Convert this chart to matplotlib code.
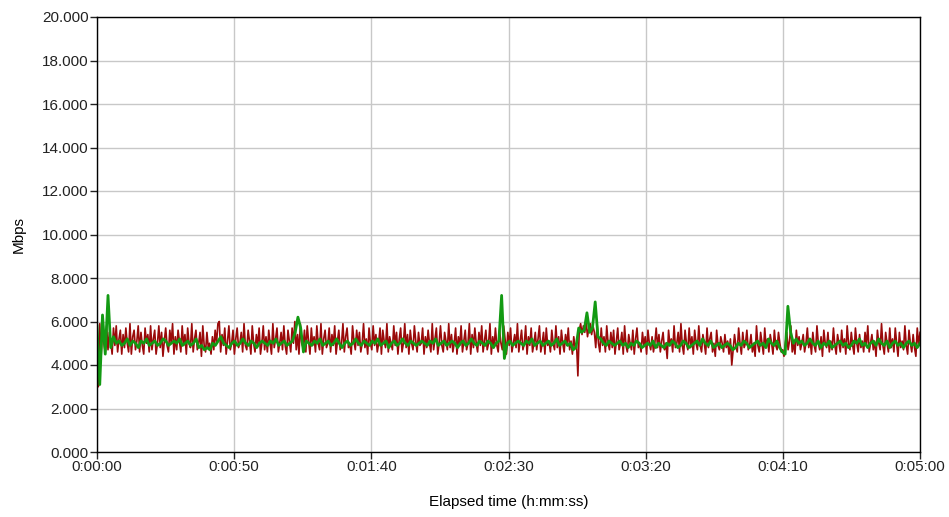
import numpy as np
import matplotlib.pyplot as plt
from matplotlib.ticker import MultipleLocator, FuncFormatter

plt.rcParams['font.family'] = ['Liberation Sans', 'DejaVu Sans']

FIGSIZE = (9.49, 5.17)
DPI = 100
FONTSIZE = 11
RED = '#9a0a0a'
GREEN = '#139a13'
GRID = '#c8c8c8'
DURATION = 300  # seconds

# Mbps, two samples per second
red = [
    5.7, 3.0, 5.9, 4.4, 5.6, 5.0, 4.6, 5.8, 4.7, 5.5, 5.1, 4.5, 5.7, 4.9, 5.8, 4.6, 5.2, 5.6, 4.5, 5.4,
    4.8, 5.7, 5.0, 4.6, 5.9, 4.5, 5.3, 5.6, 4.7, 5.1, 5.8, 4.6, 5.5, 4.9, 4.5, 5.7, 5.0, 5.4, 4.6, 5.8,
    4.7, 5.2, 5.6, 4.5, 5.0, 5.8, 4.8, 5.5, 4.4, 5.1, 5.7, 4.9, 4.6, 5.6, 5.0, 5.9, 4.5, 5.3, 4.7, 5.6,
    5.1, 4.6, 5.8, 4.9, 5.4, 4.5, 5.7, 5.0, 4.8, 5.9, 4.6, 5.2, 5.6, 4.7, 5.0, 5.5, 4.4, 5.8, 4.9, 4.6,
    5.5, 4.8, 5.0, 4.5, 5.3, 4.7, 5.6, 5.0, 5.9, 6.0, 4.6, 5.4, 4.9, 5.7, 4.5, 5.1, 5.8, 4.7, 5.0, 5.6,
    4.5, 5.2, 5.7, 4.8, 5.0, 5.5, 4.6, 5.9, 4.9, 4.7, 5.6, 5.1, 4.5, 5.8, 5.0, 4.6, 5.4, 4.9, 5.7, 4.5,
    5.0, 5.8, 4.7, 5.3, 4.6, 5.6, 5.0, 4.5, 5.9, 4.8, 5.2, 5.7, 4.6, 5.0, 5.5, 4.7, 5.8, 4.9, 4.5, 5.6,
    5.1, 4.6, 5.7, 5.0, 6.0, 4.7, 5.4, 4.5, 5.9, 5.0, 4.8, 5.6, 4.6, 5.8, 5.1, 4.5, 5.7, 4.9, 5.3, 4.6,
    5.8, 5.0, 4.7, 5.9, 4.5, 5.2, 5.6, 4.8, 5.0, 5.7, 4.6, 5.4, 4.9, 5.8, 4.5, 5.1, 5.6, 4.7, 5.0, 5.9,
    4.6, 5.3, 5.7, 4.8, 5.0, 4.5, 5.8, 5.1, 4.7, 5.6, 4.9, 5.5, 4.6, 5.0, 5.9, 4.8, 5.2, 4.5, 5.7, 5.0,
    4.7, 5.8, 4.9, 5.4, 4.6, 5.0, 5.7, 4.5, 5.6, 5.1, 4.8, 5.9, 4.6, 5.3, 5.0, 4.7, 5.8, 4.9, 5.5, 4.5,
    5.2, 5.7, 4.6, 5.0, 5.9, 4.8, 5.4, 4.5, 5.6, 5.0, 4.7, 5.8, 5.1, 4.6, 5.5, 4.9, 5.0, 5.7, 4.5, 5.3,
    4.8, 5.6, 5.0, 4.6, 5.9, 4.7, 5.2, 5.7, 4.5, 5.0, 5.8, 4.9, 4.6, 5.5, 5.1, 4.7, 5.9, 4.8, 5.4, 4.6,
    5.0, 5.7, 4.5, 5.3, 4.9, 5.8, 4.6, 5.1, 5.6, 4.7, 5.0, 5.9, 4.5, 5.4, 4.8, 5.7, 5.0, 4.6, 5.5, 4.9,
    5.8, 4.6, 5.1, 5.6, 4.7, 5.0, 5.9, 4.5, 5.3, 4.8, 5.7, 4.9, 4.6, 5.6, 5.0, 4.7, 5.8, 5.2, 4.5, 5.5,
    4.9, 5.7, 4.6, 5.0, 5.4, 4.8, 5.9, 4.6, 5.1, 5.6, 4.7, 5.0, 5.8, 4.5, 5.3, 4.9, 5.7, 4.6, 5.0, 5.5,
    4.7, 5.2, 5.8, 4.6, 5.0, 5.5, 4.5, 5.7, 4.9, 5.1, 4.6, 5.6, 5.0, 4.7, 5.8, 4.8, 5.3, 4.5, 5.6, 5.0,
    4.6, 5.4, 4.9, 5.7, 4.7, 5.1, 4.5, 5.3, 4.8, 5.0, 3.5, 5.6, 5.9, 5.4, 5.8, 5.5, 6.0, 5.3, 5.7, 5.9,
    5.4, 5.8, 5.5, 4.8, 5.9, 5.0, 4.6, 5.7, 4.9, 5.3, 4.6, 5.8, 5.0, 4.7, 5.5, 4.8, 5.6, 4.5, 5.1, 5.7,
    4.7, 5.0, 5.5, 4.5, 5.8, 4.9, 4.6, 5.4, 5.0, 4.7, 5.6, 4.5, 5.2, 5.7, 4.8, 5.0, 4.6, 5.5, 4.9, 5.3,
    4.5, 5.6, 5.0, 4.7, 5.3, 4.6, 5.0, 5.7, 4.8, 5.4, 4.6, 5.1, 5.5, 4.7, 5.0, 4.3, 5.6, 4.9, 5.2, 4.6,
    5.8, 4.8, 5.0, 5.5, 4.6, 5.9, 4.9, 4.5, 5.6, 5.0, 4.7, 5.7, 4.8, 5.3, 4.5, 5.6, 5.0, 4.7, 5.8, 4.9,
    4.6, 5.4, 5.0, 4.5, 5.7, 4.8, 5.2, 5.5, 4.6, 5.0, 4.4, 5.6, 4.9, 4.7, 5.3, 5.0, 4.6, 5.4, 4.8, 5.1,
    4.5, 5.2, 4.0, 4.7, 5.4, 4.9, 4.6, 5.7, 5.0, 4.5, 5.5, 4.8, 5.0, 5.6, 4.7, 4.9, 5.4, 4.6, 5.0, 4.4,
    5.8, 4.9, 4.6, 5.5, 5.0, 4.5, 5.7, 4.8, 5.2, 4.6, 5.4, 5.0, 4.5, 5.6, 4.9, 4.7, 5.5, 5.0, 4.6, 4.7,
    4.4, 5.0, 5.5, 4.7, 5.1, 5.8, 4.6, 5.0, 4.5, 5.6, 4.9, 5.3, 4.7, 5.0, 5.4, 4.6, 5.0, 5.7, 4.8, 5.2,
    4.5, 5.5, 4.9, 4.6, 5.8, 5.0, 4.7, 5.3, 4.4, 5.6, 5.0, 4.8, 5.5, 4.6, 5.1, 4.7, 5.7, 4.9, 4.5, 5.4,
    5.0, 4.6, 5.6, 4.8, 5.2, 4.5, 5.8, 5.0, 4.7, 5.5, 4.9, 4.5, 5.7, 5.0, 4.6, 5.4, 4.8, 5.1, 4.6, 5.5,
    4.9, 5.8, 4.6, 5.0, 5.4, 4.7, 5.1, 4.4, 5.6, 5.0, 4.7, 5.9, 4.9, 4.5, 5.5, 5.0, 4.6, 5.7, 4.8, 5.2,
    4.6, 5.7, 5.0, 4.4, 5.5, 4.8, 5.1, 4.7, 5.8, 4.9, 4.5, 5.6, 5.0, 4.6, 5.4, 4.8, 4.4, 5.7, 4.9, 5.5,
]

# Mbps, one sample per second
green = [
    5.8, 3.1, 6.3, 4.5, 7.2, 4.8, 5.3, 5.0, 5.1, 4.9,
    5.0, 5.2, 4.9, 5.1, 5.0, 4.8, 5.1, 5.0, 5.2, 4.9,
    5.0, 5.1, 4.9, 5.0, 5.2, 5.1, 4.9, 5.0, 5.1, 5.0,
    5.2, 4.9, 5.0, 5.1, 4.9, 5.0, 5.2, 4.8, 4.9, 4.7,
    4.8, 4.7, 5.0, 4.9, 5.1, 5.3, 5.0, 4.9, 4.8, 5.0,
    5.1, 4.9, 5.0, 5.2, 5.0, 4.9, 5.1, 5.0, 4.8, 5.0,
    5.1, 5.0, 4.9, 5.1, 5.0, 5.2, 4.9, 5.0, 5.1, 4.9,
    5.0, 5.1, 5.5, 6.2, 5.7, 4.6, 5.1, 5.0, 4.9, 5.1,
    5.0, 5.2, 4.9, 5.0, 5.1, 4.9, 5.0, 5.2, 5.0, 4.8,
    5.0, 5.1, 4.9, 5.0, 5.2, 5.0, 4.9, 5.1, 5.0, 4.9,
    5.1, 5.0, 5.2, 4.9, 5.0, 5.1, 4.8, 5.0, 5.1, 4.9,
    5.0, 5.2, 5.0, 4.9, 5.1, 5.0, 4.9, 5.0, 5.1, 5.0,
    4.9, 5.1, 5.0, 5.2, 4.9, 5.0, 5.1, 4.9, 5.0, 5.1,
    5.0, 4.8, 5.0, 5.1, 4.9, 5.0, 5.2, 5.0, 4.9, 5.1,
    5.0, 4.9, 5.1, 5.0, 4.8, 5.0, 5.1, 7.2, 4.3, 5.0,
    5.1, 4.9, 5.0, 5.1, 5.0, 4.9, 5.1, 5.0, 5.2, 4.9,
    5.0, 5.1, 4.9, 5.0, 5.1, 4.9, 5.0, 5.2, 4.9, 5.0,
    5.1, 4.9, 5.0, 4.7, 4.8, 5.7, 5.5, 5.6, 6.4, 5.5,
    5.7, 6.9, 5.3, 5.2, 5.0, 4.9, 5.1, 5.0, 4.9, 5.0,
    5.1, 4.9, 5.0, 4.8, 5.0, 4.9, 5.1, 5.0, 4.8, 4.9,
    5.0, 4.9, 5.1, 4.8, 5.0, 4.9, 4.8, 5.0, 4.9, 5.1,
    5.0, 4.8, 4.9, 5.1, 5.0, 4.8, 4.9, 5.0, 5.1, 4.9,
    5.2, 5.0, 4.9, 5.1, 4.8, 4.9, 5.0, 4.8, 4.9, 5.0,
    4.9, 4.7, 4.8, 5.0, 4.9, 5.1, 5.0, 4.8, 4.9, 5.0,
    5.1, 4.9, 5.0, 4.8, 5.2, 5.0, 4.9, 5.1, 4.8, 4.6,
    4.5, 6.7, 5.5, 5.0, 5.2, 5.0, 5.1, 4.9, 5.0, 5.2,
    5.0, 4.9, 5.1, 4.8, 5.0, 4.9, 5.1, 4.8, 4.9, 5.0,
    5.1, 4.9, 5.0, 4.8, 4.9, 5.1, 5.0, 5.2, 4.9, 5.0,
    4.8, 5.0, 5.1, 4.9, 5.2, 5.0, 4.9, 5.1, 4.8, 5.0,
    5.1, 4.9, 5.0, 4.8, 5.0, 5.1, 4.9, 5.0, 4.8, 5.0,
]


def hms(x, pos):
    s = int(round(x))
    return f"{s // 3600}:{(s % 3600) // 60:02d}:{s % 60:02d}"


def main():
    t_red = np.linspace(0, DURATION, len(red))
    t_green = np.linspace(0, DURATION, len(green))
    fig = plt.figure(figsize=FIGSIZE, dpi=DPI)
    ax = fig.add_axes([97 / 949, 65 / 517, 823 / 949, 435 / 517])
    ax.plot(t_red, red, c=RED, lw=1.2)
    ax.plot(t_green, green, c=GREEN, lw=2.0)
    ax.set_xlim(0, DURATION)
    ax.set_ylim(0, 20)
    ax.xaxis.set_major_locator(MultipleLocator(50))
    ax.yaxis.set_major_locator(MultipleLocator(2))
    ax.xaxis.set_major_formatter(FuncFormatter(hms))
    ax.yaxis.set_major_formatter(FuncFormatter(lambda v, p: f"{v:.3f}"))
    ax.grid(True, color=GRID, lw=1)
    ax.set_axisbelow(True)
    for s in ax.spines.values():
        s.set_color('black')
        s.set_linewidth(1.0)
    ax.tick_params(direction='out', length=5, width=1, labelsize=FONTSIZE,
                   colors='#222222', pad=1)
    ax.set_xlabel("Elapsed time (h:mm:ss)", fontsize=FONTSIZE, labelpad=15)
    ax.set_ylabel("Mbps", fontsize=FONTSIZE, labelpad=12)
    fig.savefig("out.png", dpi=DPI)
    plt.close(fig)


if __name__ == "__main__":
    main()
